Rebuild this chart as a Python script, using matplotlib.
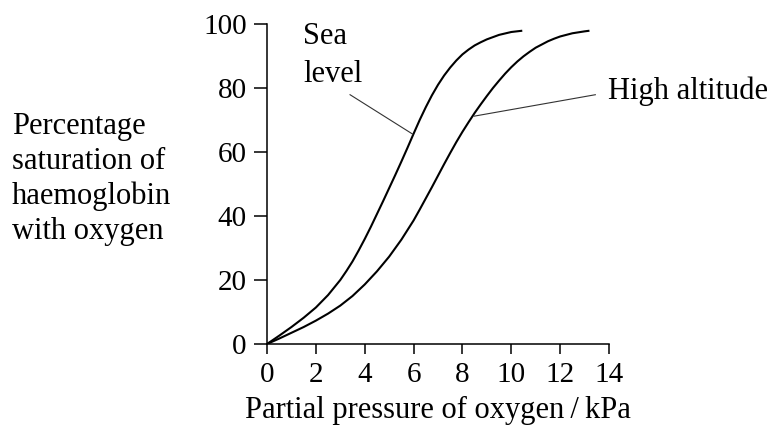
import matplotlib
matplotlib.use("Agg")
import matplotlib.pyplot as plt

# Data
sea_x = [0, 0.5, 1, 1.5, 2, 2.5, 3, 3.25, 3.5, 3.75, 4, 4.25, 4.5, 4.75, 5, 5.25, 5.5, 5.75, 6,
         6.25, 6.5, 6.75, 7, 7.25, 7.5, 7.75, 8, 8.25, 8.5, 8.75, 9, 9.5, 10, 10.45]
sea_y = [0, 2.6, 5.3, 8.2, 11.4, 15.3, 20, 22.8, 25.8, 29.2, 32.8, 36.6, 40.6, 44.6, 48.7, 52.8, 57, 61.3, 65.7,
         70.0, 74.0, 77.7, 81.0, 83.9, 86.4, 88.6, 90.5, 92.0, 93.3, 94.3, 95.2, 96.6, 97.5, 97.9]

high_x = [0, 0.5, 1, 1.5, 2, 2.5, 3, 3.5, 4, 4.5, 5, 5.5, 6, 6.25, 6.5, 6.75, 7, 7.25, 7.5, 7.75, 8,
          8.25, 8.5, 8.75, 9, 9.25, 9.5, 9.75, 10, 10.25, 10.5, 10.75, 11, 11.5, 11.75, 12, 12.5, 13, 13.2]
high_y = [0, 1.7, 3.5, 5.3, 7.3, 9.5, 12.0, 15.0, 18.6, 22.7, 27.3, 32.6, 38.6, 42.0, 45.5, 49.0, 52.6, 56.2, 59.7, 63.1, 66.3,
          69.3, 72.2, 74.9, 77.5, 80, 82.3, 84.5, 86.5, 88.3, 89.9, 91.3, 92.6, 94.6, 95.4, 96.1, 97.1, 97.7, 97.9]

x_ticks = [0, 2, 4, 6, 8, 10, 12, 14]
y_ticks = [0, 20, 40, 60, 80, 100]

plt.rcParams['font.family'] = ['Liberation Serif', 'DejaVu Serif']

fig = plt.figure(figsize=(7.75, 4.28), dpi=100)
ax = fig.add_axes([267/775, 84/428, (609-267)/775, (344-24)/428])

ax.plot(sea_x, sea_y, color='black', lw=1.5, solid_capstyle='butt', solid_joinstyle='round')
ax.plot(high_x, high_y, color='black', lw=1.5, solid_capstyle='butt', solid_joinstyle='round')

ax.set_xlim(0, 14)
ax.set_ylim(0, 100)
ax.set_xticks(x_ticks)
ax.set_yticks(y_ticks)
ax.tick_params(axis='both', direction='out', width=1.1, labelsize=21, color='black')
ax.tick_params(axis='x', length=7.5, pad=5.5)
ax.tick_params(axis='y', length=9.5, pad=5)
for s in ['top', 'right']:
    ax.spines[s].set_visible(False)
for s in ['left', 'bottom']:
    ax.spines[s].set_linewidth(1.1)

ax.set_xlabel('Partial pressure of oxygen\u2009/\u2009kPa', fontsize=22, labelpad=6)

# annotations
ax.plot([3.40, 5.96], [77.9, 65.6], color='#333333', lw=0.8, clip_on=False)
ax.text(1.47, 100.5, 'Sea\nlevel', fontsize=22, ha='left', va='top', linespacing=1.38)
ax.plot([8.48, 13.44], [71.2, 77.9], color='#333333', lw=0.8, clip_on=False)
ax.text(13.95, 79, 'High altitude', fontsize=22, ha='left', va='center', clip_on=False)

fig.text(12/775, 1 - 179/428, 'Percentage\nsaturation of\nhaemoglobin\nwith oxygen',
         fontsize=22, ha='left', va='center', linespacing=1.26)

fig.savefig('out.png', dpi=100)
